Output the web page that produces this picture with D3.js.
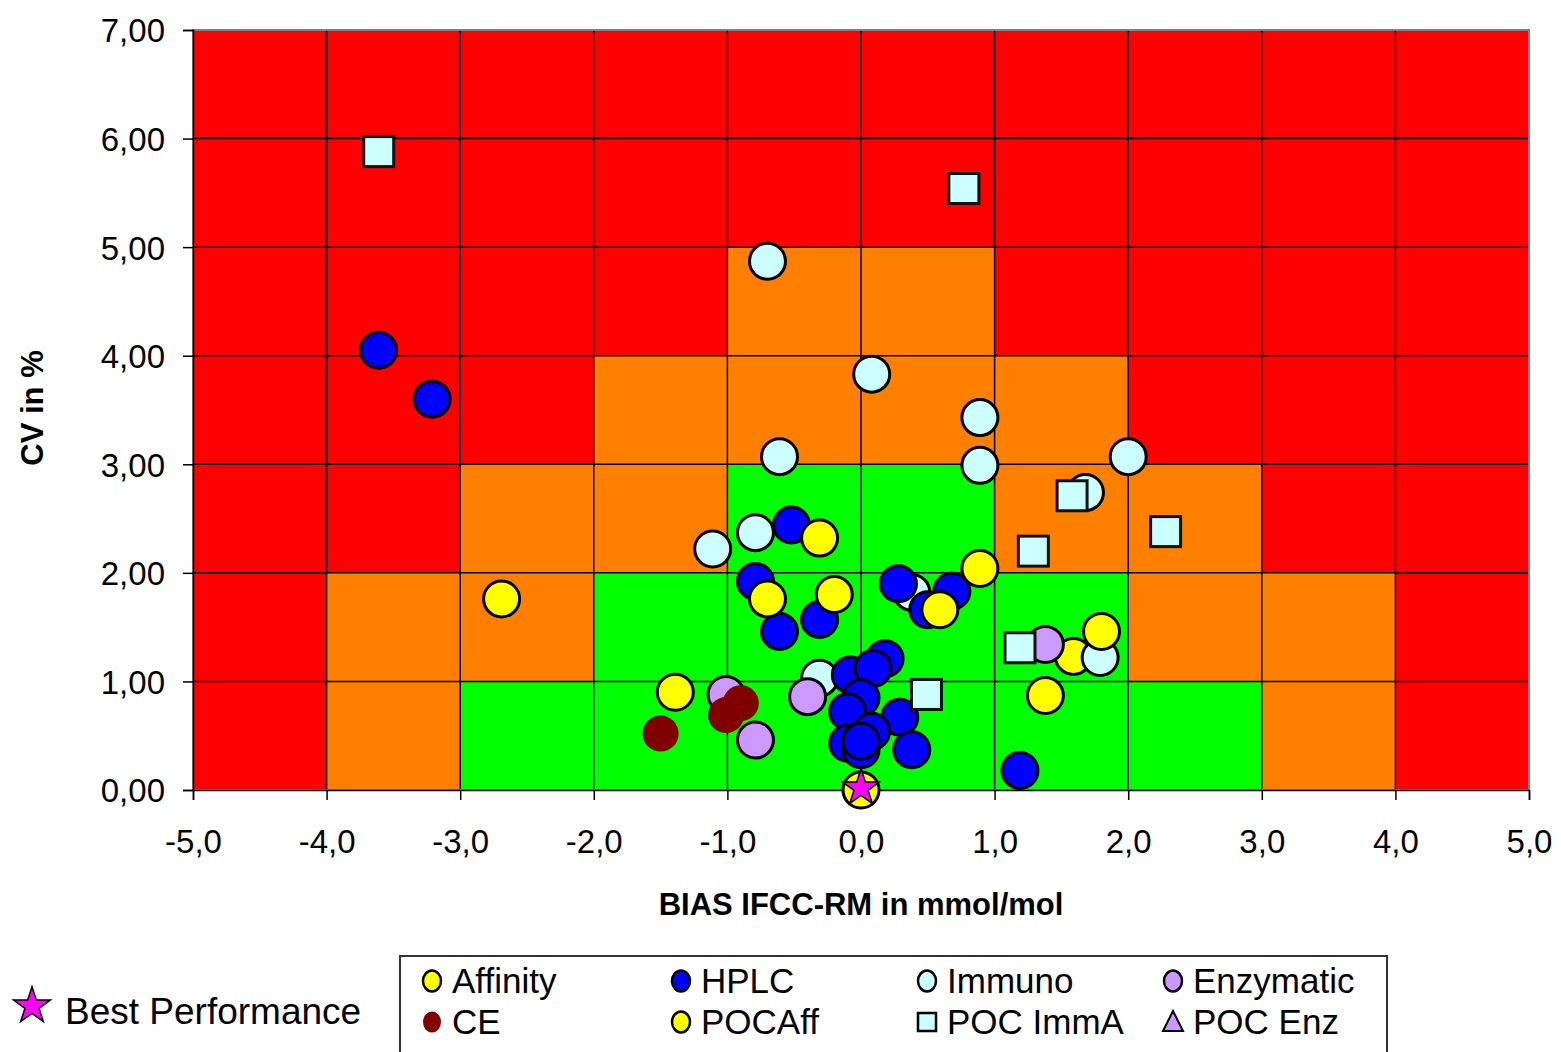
<!DOCTYPE html>
<html>
<head>
<meta charset="utf-8">
<script src="https://cdn.jsdelivr.net/npm/d3@7"></script>
<style>
  html, body { margin: 0; padding: 0; background: #fff; }
  svg { display: block; font-family: "Liberation Sans", Arial, sans-serif; }
</style>
</head>
<body>
<svg id="chart" width="1561" height="1052"></svg>
<script>
// Performance zones: one row per CV band (0-1, 1-2, ... 6-7), one code per bias band (-5..-4, ..., 4..5)
const zoneRows = [
  "ROGGGGGGOR",
  "ROOGGGGOOR",
  "RROOGGOORR",
  "RRROOOORRR",
  "RRRROORRRR",
  "RRRRRRRRRR",
  "RRRRRRRRRR"
];
const zoneColors = { R: "#FF0000", O: "#FF8000", G: "#00FF00" };

const xTicks = [-5, -4, -3, -2, -1, 0, 1, 2, 3, 4, 5];
const yTicks = [0, 1, 2, 3, 4, 5, 6, 7];

// [bias, CV] per method group
const affinity = [
  [-2.69, 1.76], [-1.39, 0.90], [-0.70, 1.76], [-0.31, 2.32], [-0.20, 1.80],
  [0.59, 1.66], [0.89, 2.04], [1.80, 1.46], [1.38, 0.87]
];
const hplc = [
  [-3.61, 4.05], [-3.21, 3.60], [-0.52, 2.44], [-0.79, 1.92], [-0.61, 1.46],
  [-0.31, 1.57], [0.28, 1.90], [0.68, 1.83], [0.50, 1.66], [0.18, 1.21],
  [-0.08, 1.06], [0.09, 1.12], [0.00, 0.85], [-0.10, 0.72], [0.29, 0.67],
  [0.08, 0.54], [-0.10, 0.43], [0.38, 0.37], [0.00, 0.37], [0.00, 0.45],
  [1.19, 0.18]
];
const immuno = [
  [-0.70, 4.87], [0.08, 3.83], [0.89, 3.43], [0.89, 2.99], [-0.61, 3.07],
  [2.00, 3.07], [1.68, 2.74], [-1.11, 2.22], [-0.79, 2.37], [0.38, 1.82],
  [-0.31, 1.03], [1.79, 1.22]
];
const enzymatic = [
  [-1.01, 0.88], [-0.79, 0.46], [-0.40, 0.86], [1.38, 1.34]
];
const ce = [
  [-1.50, 0.52], [-1.01, 0.69], [-0.90, 0.80]
];
const pocAff = [
  [1.59, 1.23], [0.00, 0.00]
];
const pocImmA = [
  [-3.61, 5.88], [0.77, 5.54], [1.58, 2.71], [2.28, 2.38], [1.29, 2.20],
  [1.19, 1.31], [0.49, 0.88]
];
const pocEnz = [];
const bestPerformance = [[0, 0]];

const legendItems = [
  { name: "Affinity",   shape: "circle",   fill: "#FFFF00", stroke: "#000" },
  { name: "HPLC",       shape: "circle",   fill: "#0000FF", stroke: "#000" },
  { name: "Immuno",     shape: "circle",   fill: "#CCFFFF", stroke: "#000" },
  { name: "Enzymatic",  shape: "circle",   fill: "#CC99FF", stroke: "#000" },
  { name: "CE",         shape: "circle",   fill: "#800000", stroke: "none" },
  { name: "POCAff",     shape: "circle",   fill: "#FFFF00", stroke: "#000" },
  { name: "POC ImmA",   shape: "square",   fill: "#CCFFFF", stroke: "#000" },
  { name: "POC Enz",    shape: "triangle", fill: "#CC99FF", stroke: "#000" }
];

const svg = d3.select("#chart");
const margin = { left: 193, right: 1529, top: 30, bottom: 790 };
const x = d3.scaleLinear().domain([-5, 5]).range([margin.left, margin.right]);
const y = d3.scaleLinear().domain([0, 7]).range([margin.bottom, margin.top]);

// zone cells
const cells = [];
zoneRows.forEach((row, ri) => {
  row.split("").forEach((code, ci) => {
    cells.push({ x0: -5 + ci, y0: ri, code });
  });
});
svg.append("g").selectAll("rect").data(cells).join("rect")
  .attr("x", d => x(d.x0))
  .attr("y", d => y(d.y0 + 1))
  .attr("width", d => x(d.x0 + 1) - x(d.x0))
  .attr("height", d => y(d.y0) - y(d.y0 + 1))
  .attr("fill", d => zoneColors[d.code]);

// grid lines
const grid = svg.append("g").attr("stroke", "#000").attr("stroke-width", 1.5);
grid.selectAll("line.v").data(xTicks.slice(1, -1)).join("line").attr("class", "v")
  .attr("x1", d => x(d)).attr("x2", d => x(d))
  .attr("y1", y(7)).attr("y2", y(0));
grid.selectAll("line.h").data(yTicks.slice(1, -1)).join("line").attr("class", "h")
  .attr("x1", x(-5)).attr("x2", x(5))
  .attr("y1", d => y(d)).attr("y2", d => y(d));

// plot frame
svg.append("rect")
  .attr("x", x(-5)).attr("y", y(7))
  .attr("width", x(5) - x(-5)).attr("height", y(0) - y(7))
  .attr("fill", "none").attr("stroke", "#808080").attr("stroke-width", 2);

// axes
const fmt1 = d3.format(".1f"), fmt2 = d3.format(".2f");
const xAxis = d3.axisBottom(x).tickValues(xTicks).tickSize(10).tickPadding(30)
  .tickFormat(d => fmt1(d).replace(".", ",").replace("−", "-"));
const yAxis = d3.axisLeft(y).tickValues(yTicks).tickSize(10).tickPadding(18)
  .tickFormat(d => fmt2(d).replace(".", ","));

const gx = svg.append("g").attr("transform", `translate(0,${y(0)})`).call(xAxis);
const gy = svg.append("g").attr("transform", `translate(${x(-5)},0)`).call(yAxis);
[gx, gy].forEach(g => {
  g.select(".domain").attr("stroke", "#000").attr("stroke-width", 1.5);
  g.selectAll(".tick line").attr("stroke", "#000").attr("stroke-width", 1.5);
  g.selectAll(".tick text").attr("fill", "#000")
    .style("font-size", "33px").style("font-family", "'Liberation Sans', Arial, sans-serif");
});
gy.selectAll(".tick text").attr("dy", "0.36em");

// axis titles
svg.append("text")
  .attr("x", x(0)).attr("y", 915)
  .attr("text-anchor", "middle")
  .style("font-size", "31px").style("font-weight", "bold")
  .text("BIAS IFCC-RM in mmol/mol");
svg.append("text")
  .attr("transform", `translate(43,${408}) rotate(-90)`)
  .attr("text-anchor", "middle")
  .style("font-size", "31px").style("font-weight", "bold")
  .text("CV in %");

// markers
const R = 18;
const plot = svg.append("g");
function circles(data, fill, stroke) {
  plot.append("g").selectAll("circle").data(data).join("circle")
    .attr("cx", d => x(d[0])).attr("cy", d => y(d[1]))
    .attr("r", R)
    .attr("fill", fill)
    .attr("stroke", stroke)
    .attr("stroke-width", 3);
}
function squares(data, fill) {
  const s = 30;
  plot.append("g").selectAll("rect").data(data).join("rect")
    .attr("x", d => x(d[0]) - s / 2).attr("y", d => y(d[1]) - s / 2)
    .attr("width", s).attr("height", s)
    .attr("fill", fill).attr("stroke", "#111").attr("stroke-width", 3);
}
function triangles(data, fill) {
  plot.append("g").selectAll("path").data(data).join("path")
    .attr("transform", d => `translate(${x(d[0])},${y(d[1])})`)
    .attr("d", d3.symbol(d3.symbolTriangle, 700))
    .attr("fill", fill).attr("stroke", "#000").attr("stroke-width", 3);
}

circles(pocAff, "#FFFF00", "#000");
circles(immuno, "#CCFFFF", "#000");
circles(enzymatic, "#CC99FF", "#000");
circles(ce, "#800000", "none");
circles(hplc, "#0000FF", "#000");
circles(affinity, "#FFFF00", "#000");
squares(pocImmA, "#CCFFFF");
triangles(pocEnz, "#CC99FF");

const star = d3.symbol(d3.symbolStar, 420);
plot.append("g").selectAll("path").data(bestPerformance).join("path")
  .attr("transform", d => `translate(${x(d[0])},${y(d[1]) - 2})`)
  .attr("d", star)
  .attr("fill", "#FF00FF").attr("stroke", "#000").attr("stroke-width", 1.5);

// stand-alone "Best Performance" key
const bp = svg.append("g").attr("transform", "translate(32,1006)");
bp.append("path").attr("d", d3.symbol(d3.symbolStar, 420))
  .attr("fill", "#FF00FF").attr("stroke", "#000").attr("stroke-width", 1.5);
bp.append("text").attr("x", 33).attr("y", 18)
  .style("font-size", "37px").text("Best Performance");

// legend box
const lg = svg.append("g");
lg.append("rect")
  .attr("x", 400).attr("y", 956).attr("width", 987).attr("height", 110)
  .attr("fill", "#fff").attr("stroke", "#333").attr("stroke-width", 2);
const colX = [432, 681, 927, 1173];
const rowY = [981, 1022];
const items = lg.selectAll("g.item").data(legendItems).join("g")
  .attr("class", "item")
  .attr("transform", (d, i) => `translate(${colX[i % 4]},${rowY[Math.floor(i / 4)]})`);
items.each(function (d) {
  const g = d3.select(this);
  if (d.shape === "circle") {
    g.append("ellipse").attr("rx", 9).attr("ry", 10.5)
      .attr("fill", d.fill).attr("stroke", d.stroke === "none" ? "none" : "#000")
      .attr("stroke-width", 2.5);
  } else if (d.shape === "square") {
    g.append("rect").attr("x", -9).attr("y", -9).attr("width", 18).attr("height", 18)
      .attr("fill", d.fill).attr("stroke", "#000").attr("stroke-width", 2.5);
  } else {
    g.append("path").attr("d", "M0,-11L10,9L-10,9Z")
      .attr("fill", d.fill).attr("stroke", "#000").attr("stroke-width", 2);
  }
  g.append("text").attr("x", 20).attr("y", 12)
    .style("font-size", "35px").text(d.name);
});
</script>
</body>
</html>
